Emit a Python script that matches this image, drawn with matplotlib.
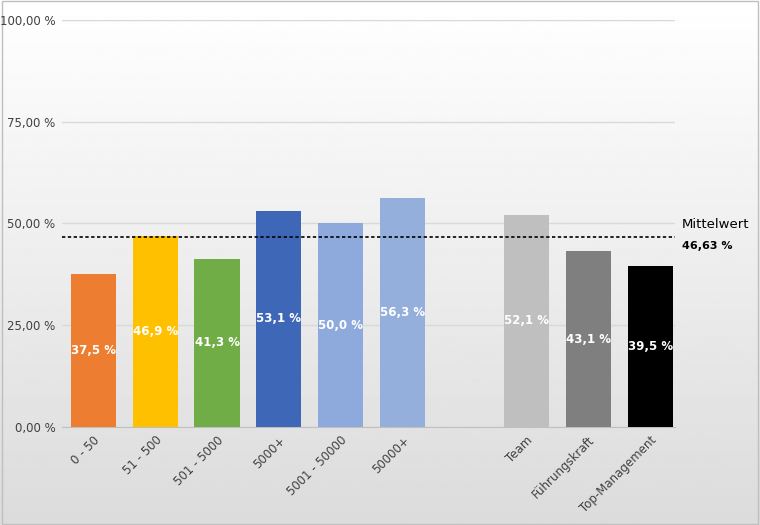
import numpy as np
import matplotlib
matplotlib.use("Agg")
import matplotlib.pyplot as plt
from matplotlib.patches import Rectangle

categories = ["0 - 50", "51 - 500", "501 - 5000", "5000+", "5001 - 50000", "50000+", "", "Team", "Führungskraft", "Top-Management"]
values = [37.5, 46.9, 41.3, 53.1, 50.0, 56.3, None, 52.1, 43.1, 39.5]
labels = ["37,5 %", "46,9 %", "41,3 %", "53,1 %", "50,0 %", "56,3 %", "", "52,1 %", "43,1 %", "39,5 %"]
colors = ["#ED7D31", "#FFC000", "#70AD47", "#3F67B8", "#8EA9DB", "#95AFDD", None, "#BFBFBF", "#7F7F7F", "#000000"]
mean_value = 46.63
yticks = [0, 25, 50, 75, 100]
ytick_labels = ["0,00 %", "25,00 %", "50,00 %", "75,00 %", "100,00 %"]

fig = plt.figure(figsize=(7.6, 5.25), dpi=100)
bg = fig.add_axes([0, 0, 1, 1], zorder=-10)
grad = np.linspace(1.0, 0.86, 256).reshape(-1, 1)
bg.imshow(grad, aspect="auto", cmap="gray", vmin=0, vmax=1, extent=[0, 1, 0, 1])
bg.add_patch(Rectangle((0.002, 0.002), 0.996, 0.996, fill=False, ec="#BFBFBF", lw=1, transform=bg.transAxes))
bg.axis("off")

ax = fig.add_axes([0.082, 0.187, 0.806, 0.775])
ax.patch.set_alpha(0)
x = np.arange(len(categories))
for i, v in enumerate(values):
    if v is None:
        continue
    ax.bar(x[i], v, width=0.73, color=colors[i], zorder=3)
    ax.text(x[i], v / 2, labels[i], ha="center", va="center", color="white",
            fontsize=8.5, fontweight="bold", zorder=4)
ax.set_ylim(0, 100)
ax.set_xlim(-0.5, len(categories) - 0.6)
ax.set_yticks(yticks)
ax.set_yticklabels(ytick_labels, fontsize=8.5, color="#404040")
ax.set_xticks([i for i in x if categories[i]])
ax.set_xticklabels([c for c in categories if c], rotation=45, ha="right",
                   rotation_mode="anchor", fontsize=8.5, color="#404040")
ax.grid(axis="y", color="#D9D9D9", lw=1, zorder=0)
for s in ["top", "right", "left"]:
    ax.spines[s].set_visible(False)
ax.spines["bottom"].set_color("#BFBFBF")
ax.tick_params(length=0, pad=5)
ax.axhline(mean_value, color="black", ls=(0, (2, 1.5)), lw=1.2, zorder=5)
ax.text(1.012, mean_value + 1.5, "Mittelwert", transform=ax.get_yaxis_transform(),
        fontsize=9.5, va="bottom", ha="left")
ax.text(1.012, mean_value - 1.0, "46,63 %", transform=ax.get_yaxis_transform(),
        fontsize=8, fontweight="bold", va="top", ha="left")
fig.savefig("out.png", dpi=100)
